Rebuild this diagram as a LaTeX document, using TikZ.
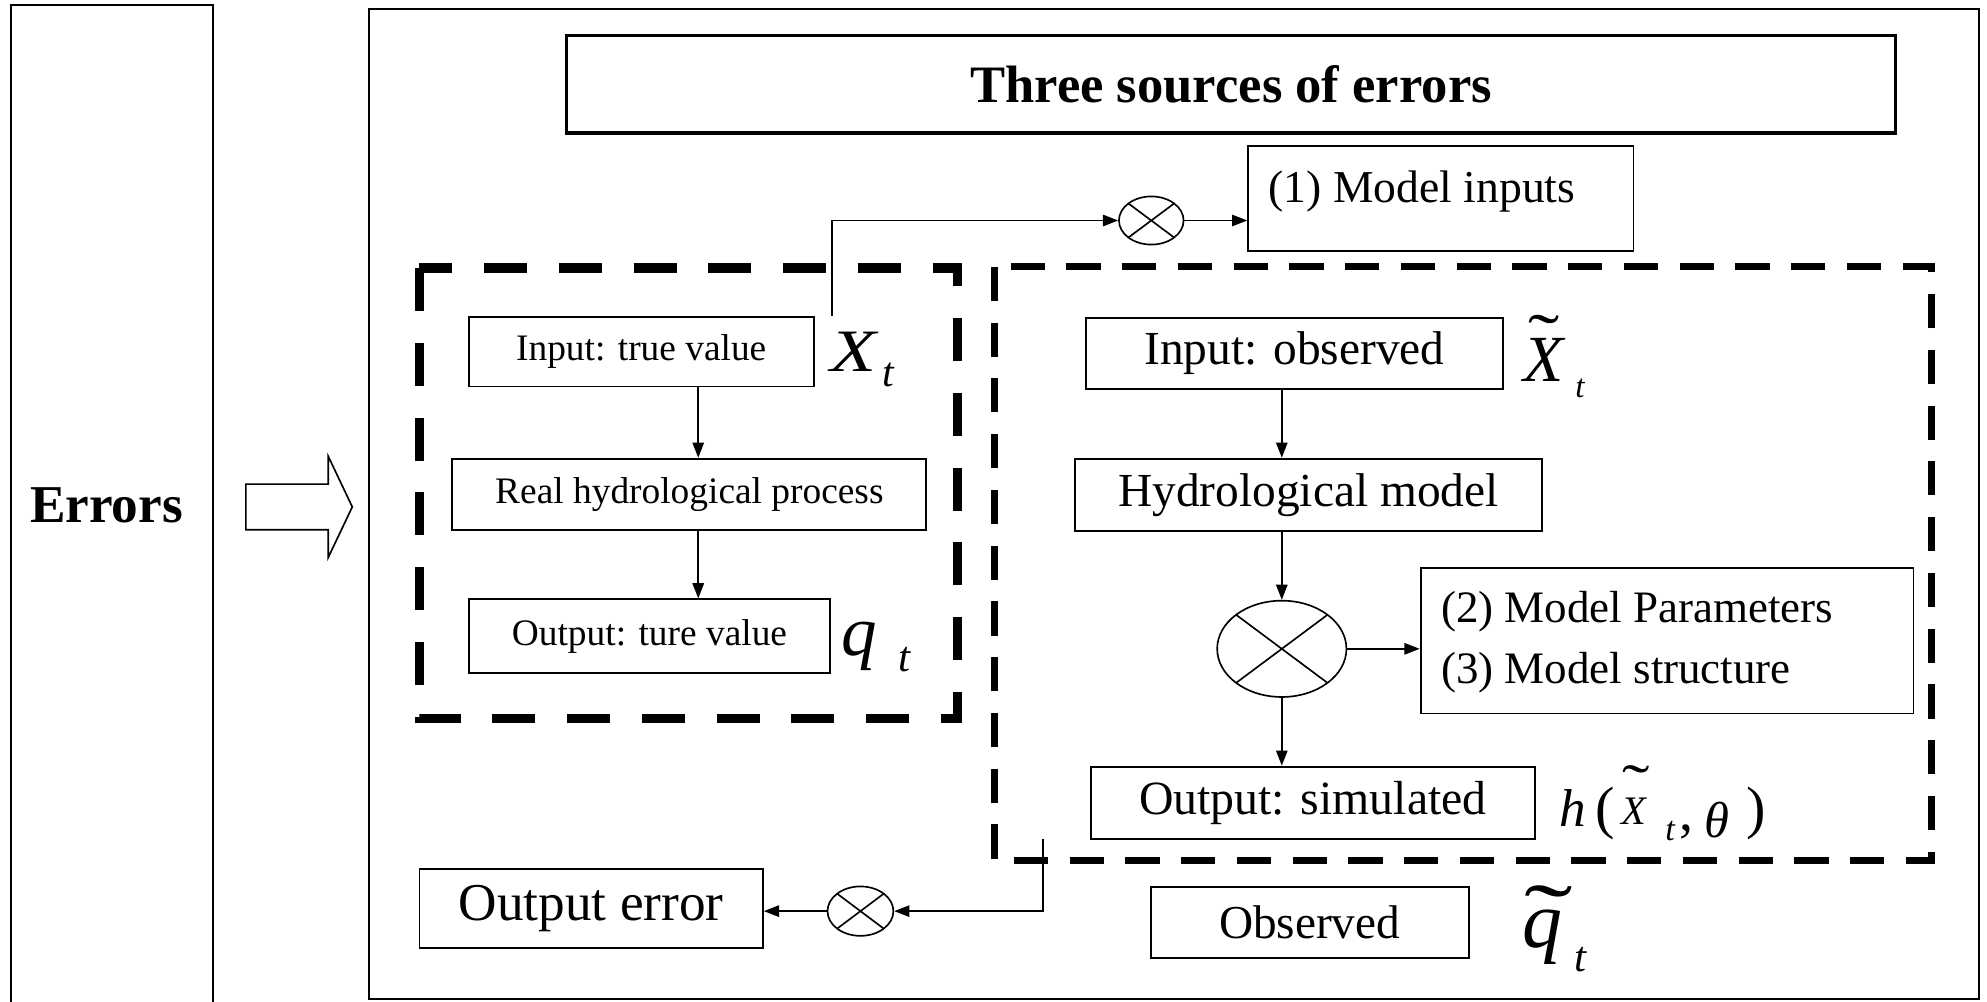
\documentclass[tikz,border=0pt]{standalone}
\usepackage{fontspec}
\setmainfont{Liberation Serif}
\usetikzlibrary{arrows.meta,shapes.geometric}
\newcommand\fs[1]{\fontsize{#1}{#1}\selectfont}
\newcommand\tld[1]{\scalebox{#1}[0.7]{˜}}
\begin{document}
\begin{tikzpicture}[x=1pt,y=-1pt,
  box/.style={draw, line width=1.5pt, inner sep=0pt},
  arr/.style={line width=1.3pt, -{Triangle[length=12pt,width=9pt]}},
  xcirc/.style={draw, ellipse, line width=1.3pt, inner sep=0pt,
    path picture={\draw[line width=1.3pt]
      (path picture bounding box.north west) -- (path picture bounding box.south east)
      (path picture bounding box.north east) -- (path picture bounding box.south west);}},
  lab/.style={inner sep=0pt, anchor=base west},
  ldash/.style={line width=7.5pt, dash pattern=on 34pt off 25pt},
  rdash/.style={line width=5.5pt, dash pattern=on 27pt off 17pt}]
\useasboundingbox (0,0) rectangle (1568,790);
\clip (0,0) rectangle (1568,790);
\fill[white] (0,0) rectangle (1568,790);

% left panel
\node[box, minimum width=159pt, minimum height=796pt] (errbox) at (88.5,402) {};
\node[inner sep=0pt] (errlabel) at (84,399) {\fs{42}\bfseries Errors};
\draw[line width=1.3pt, line join=miter] (194,382) -- (259,382) -- (259,360) -- (278,400)
  -- (259,440) -- (259,418) -- (194,418) -- cycle;

% main frame
\node[box, minimum width=1271pt, minimum height=781pt] (bigbox) at (926.5,397.5) {};
\node[box, line width=2.6pt, minimum width=1049pt, minimum height=77pt] (title) at (971.5,66.5)
  {\fs{41.5}\bfseries Three sources of errors};

\node[box, minimum width=304pt, minimum height=83pt] (inbox) at (1137,156.5) {};
\node[lab] (intext) at (1001,160) {\fs{36}(1) Model inputs};
\node[xcirc, minimum width=51pt, minimum height=38pt] (c1) at (908.5,174) {};

% dashed frames
\draw[ldash] (331,211.5) rectangle (755.5,567);
\draw[rdash] (784.5,210.5) rectangle (1524,679);

% left column
\node[box, minimum width=272pt, minimum height=55pt] (truein) at (506,277.5) {\fs{29.5}Input: true value};
\node[box, minimum width=374pt, minimum height=56pt] (realproc) at (544,390) {\fs{29.5}Real hydrological process};
\node[box, minimum width=285pt, minimum height=58pt] (trueout) at (512.5,502) {\fs{29.5}Output: ture value};
\node[lab] (Xl) at (655,293) {\fs{47.5}\scalebox{1.25}[1]{\itshape X}};
\node[lab] (Xlt) at (696,305) {\fs{33}\itshape t};
\node[lab] (ql) at (663.5,517) {\fs{56}\itshape q};
\node[lab] (qlt) at (709,530) {\fs{34}\itshape t};

\coordinate (a1) at (551,0);
\draw[arr] (truein.south -| a1) -- (realproc.north -| a1);
\draw[arr] (realproc.south -| a1) -- (trueout.north -| a1);
\coordinate (xtop) at (656.5,249);
\draw[arr] (xtop) |- (c1.west);
\draw[arr] (c1.east) -- (inbox.west |- c1.east);

% right column
\node[box, minimum width=329pt, minimum height=56pt] (obsin) at (1021.5,279) {\fs{37.4}Input: observed};
\node[lab] (Xr) at (1201.7,301) {\fs{52}\itshape X};
\node[lab] (Xrtil) at (1206,283.5) {\fs{74}\tld{1}};
\node[lab] (Xrt) at (1243,314) {\fs{26}\itshape t};
\node[box, minimum width=369pt, minimum height=57pt] (hydmodel) at (1032.5,390.5) {\fs{37.4}Hydrological model};
\node[xcirc, minimum width=102pt, minimum height=76pt] (c3) at (1011.5,512) {};
\node[box, minimum width=389pt, minimum height=115pt] (params) at (1315.5,505.5) {};
\node[lab] (p2) at (1137,491.5) {\fs{35.5}(2) Model Parameters};
\node[lab] (p3) at (1137,539) {\fs{35.5}(3) Model structure};
\node[box, minimum width=350pt, minimum height=57pt] (simout) at (1036,633.5) {\fs{37.7}Output: simulated};

\node[lab] (hh) at (1230.5,652) {\fs{42}\itshape h};
\node[lab] (hlp) at (1259,653) {\fs{46}(};
\node[lab] (hX) at (1279.6,651) {\fs{32}\itshape X};
\node[lab] (hXtil) at (1280,635) {\fs{65}\tld{1}};
\node[lab] (ht) at (1314,663) {\fs{27}\itshape t};
\node[lab] (hcomma) at (1325,655) {\fs{44},};
\node[lab] (htheta) at (1345,661) {\fs{40}\itshape θ};
\node[lab] (hrp) at (1377.7,653) {\fs{46})};

\coordinate (a2) at (1011.5,0);
\draw[arr] (obsin.south -| a2) -- (hydmodel.north -| a2);
\draw[arr] (hydmodel.south -| a2) -- (c3.north);
\draw[arr] (c3.east) -- (params.west |- c3.east);
\draw[arr] (c3.south) -- (simout.north -| c3.south);

% bottom
\node[box, minimum width=251pt, minimum height=56pt] (observed) at (1033.5,728) {\fs{37.3}Observed};
\node[lab] (qr) at (1201,748) {\fs{63}\itshape q};
\node[lab] (qrtil) at (1203,746.5) {\fs{100}\tld{1.15}};
\node[lab] (qrt) at (1242,767) {\fs{34}\itshape t};

\node[box, minimum width=271pt, minimum height=62pt] (outerr) at (466.5,717) {\fs{42}Output error};
\node[xcirc, minimum width=52pt, minimum height=39pt] (c2) at (679,719) {};
\coordinate (stop) at (823,662);
\draw[arr] (stop) |- (c2.east);
\draw[arr] (c2.west) -- (outerr.east |- c2.west);
\end{tikzpicture}
\end{document}
